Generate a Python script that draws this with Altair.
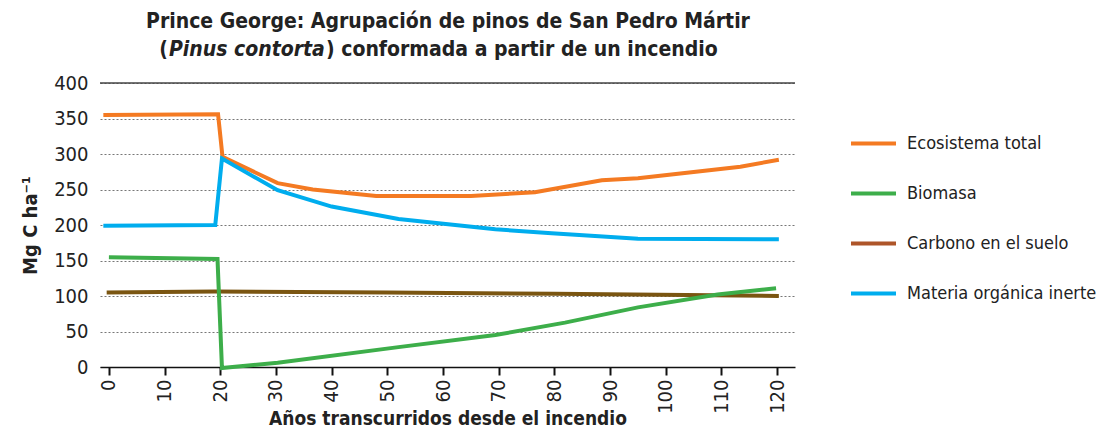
import altair as alt
import pandas as pd

FONT = "Liberation Sans Narrow, DejaVu Sans Condensed, sans-serif"

series_names = ["Ecosistema total", "Biomasa", "Carbono en el suelo", "Materia orgánica inerte"]
legend_colors = ["#F47A22", "#3DAE4A", "#AE5529", "#00ADEE"]
soil_line_color = "#7A5511"

total_x = [-1, 19.6, 20.4, 30.3, 36.6, 48, 65, 76.5, 88.5, 95, 113.4, 120.3]
total_y = [355, 356, 296, 259, 250, 241, 241, 246, 263, 266, 282, 292]

biomass_x = [0, 19.5, 20.3, 30.3, 52, 69.4, 81.9, 95, 109.3, 119.8]
biomass_y = [154.5, 152, -1.5, 6, 28, 45, 62.5, 84, 102, 111]

soil_x = [-0.4, 19, 50, 80, 120.3]
soil_y = [105, 106.5, 105, 103, 100]

inert_x = [-1, 19.1, 20.3, 30.3, 40, 52, 69.4, 79.5, 88, 95, 120.3]
inert_y = [199, 200, 293.5, 249, 226, 208.5, 194, 188.5, 184, 180.5, 180]

x_ticks = [0, 10, 20, 30, 40, 50, 60, 70, 80, 90, 100, 110, 120]
y_ticks = [0, 50, 100, 150, 200, 250, 300, 350, 400]
top_line = [400]

title_line1 = "Prince George: Agrupación de pinos de San Pedro Mártir"
title_open = "("
title_italic = "Pinus contorta"
title_rest = ") conformada a partir de un incendio"


def frame(xs, ys, name):
    return pd.DataFrame({"x": xs, "y": ys, "serie": name})


x_scale = alt.Scale(domain=[-1.6, 123.2], nice=False, zero=False)
y_scale = alt.Scale(domain=[0, 400], nice=False)
color_scale = alt.Scale(domain=series_names, range=legend_colors)

x_axis = alt.Axis(
    values=x_ticks, title="Años transcurridos desde el incendio", labelAngle=270,
    labelFontSize=20, labelFont=FONT, labelColor="#222", labelPadding=4,
    tickSize=8, tickWidth=2, tickColor="#111", domainColor="#111", domainWidth=1.5,
    grid=False, titleFontSize=19, titleFont=FONT, titleFontWeight="bold",
    titleColor="#222", titleY=57, titleBaseline="alphabetic",
)
y_axis = alt.Axis(
    values=y_ticks, title="Mg C ha⁻¹", labelFontSize=20, labelFont=FONT,
    labelColor="#222", labelPadding=12, ticks=False, domain=False,
    grid=True, gridDash=[2, 2], gridColor="#777", gridWidth=1,
    titleFontSize=20, titleFont=FONT, titleFontWeight="bold", titleColor="#222",
    titlePadding=13,
)

legend = alt.Legend(
    title=None, orient="none", legendX=749, legendY=36,
    symbolType="stroke", symbolSize=2025, symbolStrokeWidth=4,
    labelFontSize=18, labelFont=FONT, labelColor="#222", labelLimit=400,
    labelOffset=9, rowPadding=16, padding=0,
)


def line_layer(df, stroke=None):
    enc = dict(
        x=alt.X("x:Q", scale=x_scale, axis=x_axis),
        y=alt.Y("y:Q", scale=y_scale, axis=y_axis),
    )
    if stroke is None:
        enc["color"] = alt.Color("serie:N", scale=color_scale, legend=legend)
    else:
        enc["color"] = alt.value(stroke)
    return alt.Chart(df).mark_line(strokeWidth=4).encode(**enc)


grid_top = alt.Chart(pd.DataFrame({"y": top_line})).mark_rule(
    color="#444", strokeWidth=1.5
).encode(y=alt.Y("y:Q", scale=y_scale, axis=y_axis))


def title_text(txt, x, y, align, style="normal"):
    return alt.Chart(pd.DataFrame({"t": [txt]})).mark_text(
        font=FONT, fontSize=21, fontWeight="bold", fontStyle=style, align=align,
        baseline="alphabetic", color="#222",
    ).encode(text="t:N", x=alt.value(x), y=alt.value(y))


chart = alt.layer(
    line_layer(frame(total_x, total_y, series_names[0])),
    line_layer(frame(soil_x, soil_y, series_names[2]), stroke=soil_line_color),
    line_layer(frame(biomass_x, biomass_y, series_names[1])),
    line_layer(frame(inert_x, inert_y, series_names[3])),
    grid_top,
    title_text(title_line1, 348, -55, "center"),
    title_text(title_open, 68, -27, "right"),
    title_text(title_italic, 69, -27, "left", "italic"),
    title_text(title_rest, 226, -27, "left"),
).properties(
    width=695, height=284,
    autosize=alt.AutoSizeParams(type="none"),
    padding={"left": 92, "top": 75, "right": 306, "bottom": 64},
).configure_view(stroke=None)

chart.save("out.html", embed_options={"renderer": "svg", "actions": False})
